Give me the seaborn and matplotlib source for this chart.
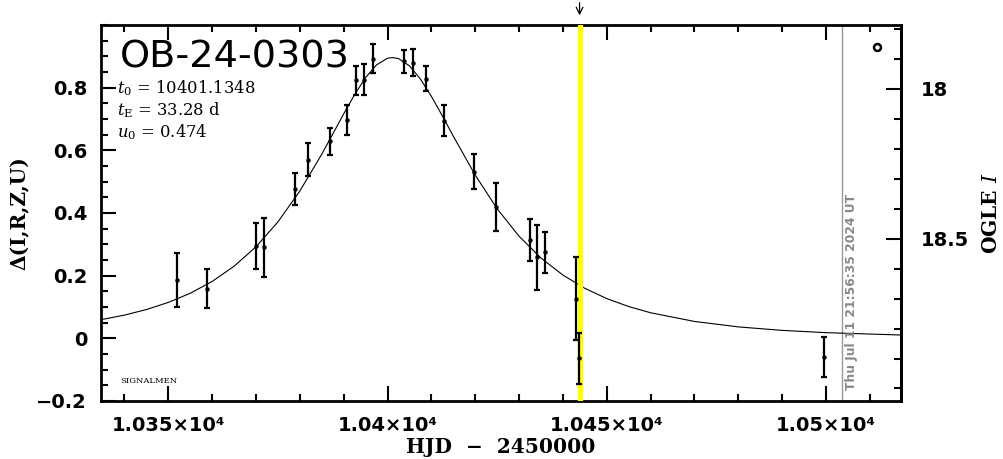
import numpy as np
import pandas as pd
import matplotlib
matplotlib.use('Agg')
import matplotlib.pyplot as plt
import seaborn as sns
from matplotlib.ticker import FixedLocator, MultipleLocator

# ---- data ----
hjd = [10352.0, 10358.9, 10369.9, 10371.8, 10378.8, 10381.8, 10386.8, 10390.7,
       10392.9, 10394.7, 10396.7, 10403.8, 10405.9, 10408.8, 10412.8, 10419.8,
       10424.8, 10432.6, 10434.0, 10436.0, 10443.0, 10443.7, 10499.6]
delta = [0.187, 0.159, 0.295, 0.290, 0.477, 0.570, 0.629, 0.698,
         0.823, 0.826, 0.893, 0.884, 0.880, 0.829, 0.695, 0.532,
         0.418, 0.314, 0.258, 0.274, 0.127, -0.064, -0.060]
err = [0.086, 0.061, 0.073, 0.094, 0.050, 0.053, 0.043, 0.048,
       0.045, 0.048, 0.045, 0.037, 0.043, 0.040, 0.050, 0.055,
       0.077, 0.067, 0.103, 0.066, 0.132, 0.082, 0.064]

model_hjd = [10334.7, 10340, 10345, 10350, 10355, 10360, 10365, 10370, 10375, 10380,
             10385, 10387.5, 10390, 10392.5, 10395, 10397.5, 10400, 10401.13,
             10402.5, 10405, 10407.5, 10410, 10412.5, 10415, 10420, 10425, 10430,
             10435, 10440, 10445, 10450, 10455, 10460, 10470, 10480, 10490, 10500,
             10517.1]
model_delta = [0.0597, 0.0741, 0.0918, 0.1146, 0.1438, 0.1814, 0.2300, 0.2922, 0.3714,
               0.4700, 0.5876, 0.6516, 0.7163, 0.7781, 0.8322, 0.8727, 0.8940, 0.8960,
               0.8929, 0.8696, 0.8275, 0.7724, 0.7101, 0.6453, 0.5210, 0.4135, 0.3258,
               0.2563, 0.2019, 0.1596, 0.1269, 0.1014, 0.0816, 0.0539, 0.0365, 0.0254,
               0.0181, 0.0106]

event_name = "OB-24-0303"
params = [r"$t_0$ = 10401.1348", r"$t_{\rm E}$ = 33.28 d", r"$u_0$ = 0.474"]
now_hjd = 10443.8
stamp_hjd = 10503.6
stamp_text = "Thu Jul 11 21:56:35 2024 UT"
x_ticks = [10350, 10400, 10450, 10500]
x_tick_labels = ["1.035×10⁴", "1.04×10⁴", "1.045×10⁴", "1.05×10⁴"]
y_ticks = [-0.2, 0, 0.2, 0.4, 0.6, 0.8]
y_tick_labels = ["−0.2", "0", "0.2", "0.4", "0.6", "0.8"]
ogle_ticks = [18, 18.5]
ogle_tick_labels = ["18", "18.5"]

# ---- style ----
sns.set_theme(style="ticks")
plt.rcParams['font.family'] = ['DejaVu Serif', 'DejaVu Sans']
plt.rcParams['mathtext.fontset'] = 'dejavuserif'
for k in ['text.color', 'axes.labelcolor', 'xtick.color', 'ytick.color', 'axes.edgecolor']:
    plt.rcParams[k] = 'black'

fig = plt.figure(figsize=(10.04, 4.59), dpi=100)
ax = fig.add_axes([101/1004, 1-401/459, 800/1004, 376/459])

df_model = pd.DataFrame({"hjd": model_hjd, "delta": model_delta})
df_pts = pd.DataFrame({"hjd": hjd, "delta": delta, "err": err})

ax.axvline(now_hjd, color='#ffff00', lw=3.8, zorder=3)
ax.axvline(stamp_hjd, color='#999999', lw=1.0, zorder=1)

sns.lineplot(data=df_model, x="hjd", y="delta", ax=ax, color='black', lw=0.8,
             sort=False, estimator=None, zorder=2)
ax.errorbar(df_pts["hjd"], df_pts["delta"], yerr=df_pts["err"], fmt='o', ms=2.2,
            color='black', ecolor='black', elinewidth=1.6, capsize=2.5, capthick=1.6,
            zorder=4)

ax.plot([10511.6], [0.93], marker='o', ms=5, mfc='white', mec='black', mew=1.8,
        linestyle='none', zorder=5)

ax.set_xlim(10334.66, 10517.1)
ax.set_ylim(-0.2, 1.0)

ax.xaxis.set_major_locator(FixedLocator(x_ticks))
ax.set_xticklabels(x_tick_labels)
ax.xaxis.set_minor_locator(MultipleLocator(10))
ax.yaxis.set_major_locator(FixedLocator(y_ticks))
ax.set_yticklabels(y_tick_labels)
ax.yaxis.set_minor_locator(MultipleLocator(0.05))

ax.tick_params(axis='both', which='both', direction='in', top=True, right=False,
               width=1.5, color='black', labelcolor='black')
ax.tick_params(axis='both', which='major', length=11, labelsize=14)
ax.tick_params(axis='both', which='minor', length=5)
ax.tick_params(axis='x', which='major', pad=11)
ax.tick_params(axis='y', which='major', pad=10)
for lab in ax.get_xticklabels() + ax.get_yticklabels():
    lab.set_fontweight('bold')
    lab.set_family(['DejaVu Sans'])
for s in ax.spines.values():
    s.set_linewidth(2)
    s.set_color('black')

ax.set_xlabel("HJD  −  2450000", fontsize=14.5, fontweight='bold', labelpad=1)
ax.set_ylabel("Δ(I,R,Z,U)", fontsize=14.5, fontweight='bold', labelpad=5)

def d2i(d):
    return 18 - 1.046 * (np.asarray(d) - 0.796)

def i2d(i):
    return 0.796 - (np.asarray(i) - 18) / 1.046

ax2 = ax.secondary_yaxis('right', functions=(d2i, i2d))
ax2.yaxis.set_major_locator(FixedLocator(ogle_ticks))
ax2.set_yticklabels(ogle_tick_labels)
ax2.yaxis.set_minor_locator(MultipleLocator(0.1))
ax2.tick_params(which='both', direction='in', width=1.5, color='black', labelcolor='black')
ax2.tick_params(which='major', length=11, labelsize=14, pad=14)
ax2.tick_params(which='minor', length=5)
for lab in ax2.get_yticklabels():
    lab.set_fontweight('bold')
    lab.set_family(['DejaVu Sans'])
ax2.spines['right'].set_linewidth(2)
ax2.set_ylabel(r"OGLE $I$", fontsize=14.5, fontweight='bold', labelpad=9)

ax.text(0.024, 0.886, event_name, transform=ax.transAxes, fontsize=27.5,
        family=['DejaVu Sans'], va='baseline', ha='left', color='black', zorder=6)
for s, yy in zip(params, [0.819, 0.761, 0.702]):
    ax.text(0.02, yy, s, transform=ax.transAxes, fontsize=11.8, va='baseline',
            ha='left', color='black')
ax.text(0.024, 0.048, "SIGNALMEN", transform=ax.transAxes, fontsize=6,
        va='baseline', ha='left', color='black')

ax.text(stamp_hjd + 0.8, -0.165, stamp_text, rotation=90, ha='left', va='bottom',
        fontsize=8.8, fontweight='bold', color='#888888', family=['DejaVu Sans'])

ax.annotate('', xy=(now_hjd, 1.022), xytext=(now_hjd, 1.08),
            arrowprops=dict(arrowstyle='->', color='black', lw=0.9),
            annotation_clip=False)

fig.savefig('out.png', dpi=100)
